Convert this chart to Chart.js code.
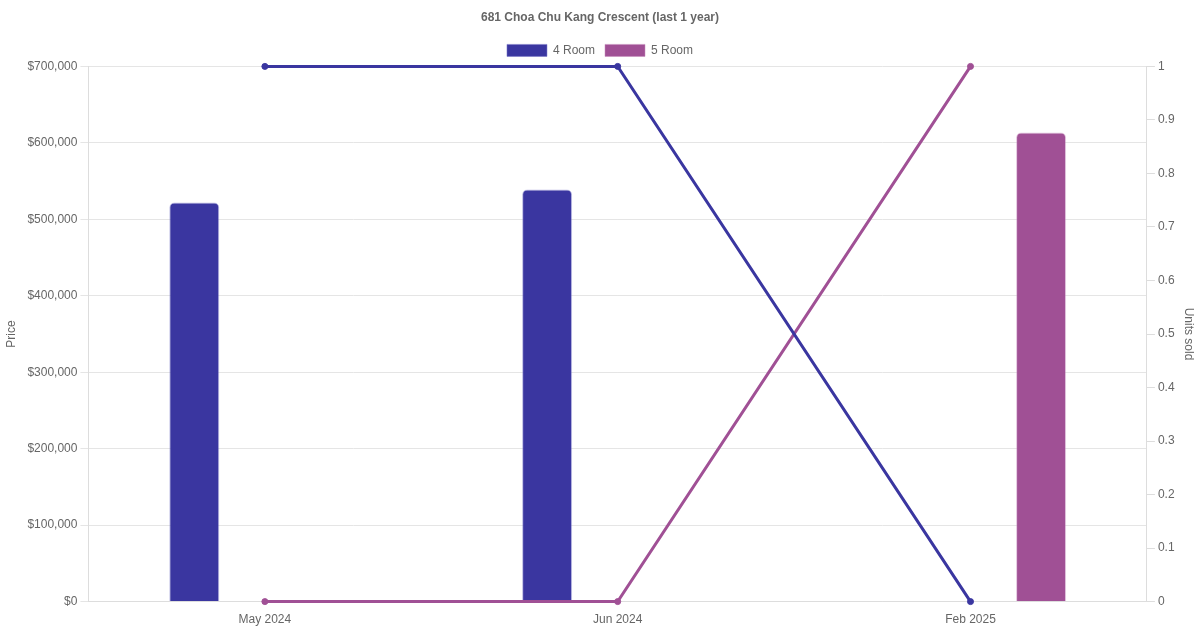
<!DOCTYPE html>
<html>
<head>
<meta charset="utf-8">
<script src="https://cdn.jsdelivr.net/npm/chart.js@4/dist/chart.umd.min.js"></script>
<style>
html,body{margin:0;padding:0;background:#fff;}
#wrap{width:1200px;height:630px;}
</style>
</head>
<body>
<div id="wrap"><canvas id="c" width="1200" height="630"></canvas></div>
<script>
const categories = ["May 2024", "Jun 2024", "Feb 2025"];
const price4Room = [522000, 539000, null];
const price5Room = [null, null, 613500];
const units4Room = [1, 1, 0];
const units5Room = [0, 0, 1];
const chartTitle = "681 Choa Chu Kang Crescent (last 1 year)";

const c4 = "#3a36a0";
const c5 = "#a05095";

Chart.defaults.font.family = "'Liberation Sans', Arial, Helvetica, sans-serif";
Chart.defaults.font.size = 12;
Chart.defaults.color = "#666";

new Chart(document.getElementById("c"), {
  data: {
    labels: categories,
    datasets: [
      { type: "line", label: "4 Room units", data: units4Room, yAxisID: "y1", clip: false,
        borderColor: c4, backgroundColor: c4, borderWidth: 3, pointRadius: 3, pointBorderWidth: 1, pointHoverRadius: 4, tension: 0 },
      { type: "line", label: "5 Room units", data: units5Room, yAxisID: "y1", clip: false,
        borderColor: c5, backgroundColor: c5, borderWidth: 3, pointRadius: 3, pointBorderWidth: 1, pointHoverRadius: 4, tension: 0 },
      { type: "bar", label: "4 Room", data: price4Room, yAxisID: "y",
        backgroundColor: c4, borderColor: "rgba(120,118,200,0.5)", borderWidth: 1, borderRadius: 5, borderSkipped: "bottom", maxBarThickness: 50 },
      { type: "bar", label: "5 Room", data: price5Room, yAxisID: "y",
        backgroundColor: c5, borderColor: "rgba(200,140,190,0.5)", borderWidth: 1, borderRadius: 5, borderSkipped: "bottom", maxBarThickness: 50 }
    ]
  },
  options: {
    responsive: false,
    animation: false,
    devicePixelRatio: 1,
    layout: { padding: { left: 0, right: 0, top: 0, bottom: 0 } },
    plugins: {
      title: { display: true, text: chartTitle, font: { size: 12, weight: "bold" }, color: "#666", padding: { top: 10, bottom: 10 } },
      legend: {
        labels: { boxWidth: 40, boxHeight: 12, color: "#666", font: { size: 12 },
          filter: (item) => item.text === "4 Room" || item.text === "5 Room" }
      },
      tooltip: { enabled: false }
    },
    scales: {
      x: {
        offset: true,
        grid: { display: false },
        border: { color: "#ddd" },
        ticks: { color: "#666", font: { size: 12 } }
      },
      y: {
        position: "left",
        min: 0, max: 700000,
        ticks: { stepSize: 100000, color: "#666", font: { size: 12 },
          callback: (v) => "$" + v.toLocaleString("en-US") },
        grid: { color: "#e5e5e5", tickLength: 8 },
        border: { color: "#ddd" },
        title: { display: true, text: "Price", color: "#666", font: { size: 12 }, padding: { top: 4, bottom: 6 } }
      },
      y1: {
        position: "right",
        min: 0, max: 1,
        ticks: { stepSize: 0.1, color: "#666", font: { size: 12 },
          callback: (v) => String(Math.round(v * 10) / 10) },
        grid: { drawOnChartArea: false, color: "#ddd", tickLength: 8 },
        border: { color: "#ddd" },
        title: { display: true, text: "Units sold", color: "#666", font: { size: 12 } }
      }
    }
  }
});
</script>
</body>
</html>
